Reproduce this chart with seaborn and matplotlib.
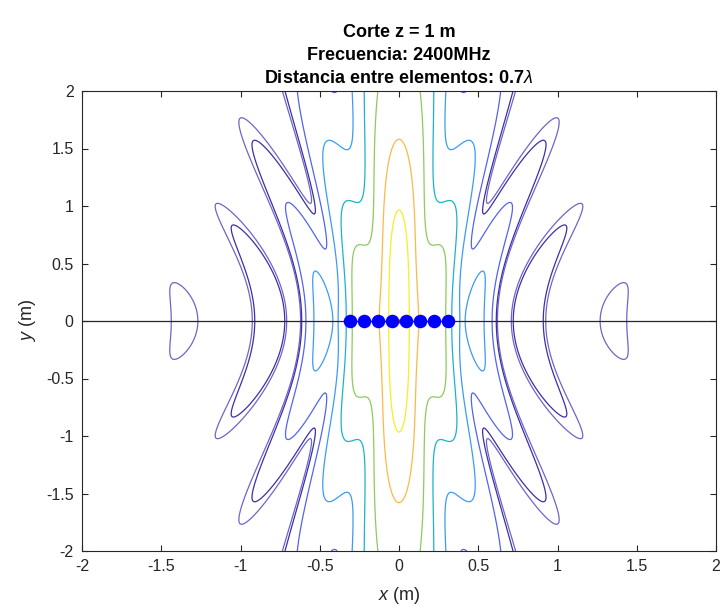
import numpy as np
import pandas as pd
import matplotlib
matplotlib.use("Agg")
import matplotlib.pyplot as plt
import seaborn as sns

# ---- data / parameters ----
freq_mhz = 2400
spacing_wl = 0.7
z_cut = 1.0
elem_x = [-0.30625, -0.21875, -0.13125, -0.04375, 0.04375, 0.13125, 0.21875, 0.30625]
elem_y = [0, 0, 0, 0, 0, 0, 0, 0]
# contour levels (dB relative to the maximum) and their colours
level_db = [-19.1, -18.2, -15.3, -11.8, -8.3, -5.6, -2.84, -1.1]
level_colors = ["#6c66c8", "#3d2fa6", "#5364ee", "#3c9cf0", "#1cb3c9", "#8ccb5c", "#fdb84a", "#f4ef26"]
x_ticks = [-2, -1.5, -1, -0.5, 0, 0.5, 1, 1.5, 2]
y_ticks = [-2, -1.5, -1, -0.5, 0, 0.5, 1, 1.5, 2]

lam = 3e8 / (freq_mhz * 1e6)
k = 2 * np.pi / lam

def field(x, y):
    E = 0
    for xn in elem_x:
        r = np.sqrt((x - xn) ** 2 + y ** 2 + z_cut ** 2)
        E = E + np.exp(-1j * k * r) / r
    return np.abs(E)

g = np.linspace(-2, 2, 601)
X, Y = np.meshgrid(g, g)
F = field(X, Y)
Fdb = 20 * np.log10(F / field(0.0, 0.0))

sns.set_theme(style="white")
plt.rcParams["font.family"] = ["Liberation Sans", "DejaVu Sans"]
plt.rcParams["axes.unicode_minus"] = False
plt.rcParams["mathtext.fontset"] = "custom"
plt.rcParams["mathtext.rm"] = "Liberation Sans"
plt.rcParams["mathtext.it"] = "Liberation Sans:italic"

fig = plt.figure(figsize=(7.26, 6.14), dpi=100)
ax = fig.add_axes([82 / 726, 1 - 551 / 614, (716 - 82) / 726, (551 - 91) / 614])

ax.contour(X, Y, Fdb, levels=level_db, colors=level_colors, linewidths=0.9)

line_df = pd.DataFrame({"x": [-2, 2], "y": [0, 0]})
sns.lineplot(data=line_df, x="x", y="y", color="#262626", linewidth=0.9, ax=ax, zorder=3)
ax.plot([0], [0], marker=".", color="red", markersize=4, zorder=4)
el_df = pd.DataFrame({"x": elem_x, "y": elem_y})
sns.scatterplot(data=el_df, x="x", y="y", color="blue", s=95, edgecolor="blue", linewidth=0, ax=ax, zorder=5)

ax.set_xlim(-2, 2)
ax.set_ylim(-2, 2)
ax.set_xticks(x_ticks)
ax.set_yticks(y_ticks)
ax.set_xticklabels([f"{t:g}" for t in x_ticks])
ax.set_yticklabels([f"{t:g}" for t in y_ticks])
ax.tick_params(direction="in", length=4.5, width=0.8, colors="#262626", labelsize=11.5,
               top=True, right=True, bottom=True, left=True, pad=6)
for sp in ax.spines.values():
    sp.set_color("#262626")
    sp.set_linewidth(0.8)
ax.set_xlabel(r"$\mathit{x}$ (m)", fontsize=13, color="#262626", labelpad=8)
ax.set_ylabel(r"$\mathit{y}$ (m)", fontsize=13, color="#262626", labelpad=6)
ax.set_title("Corte z = 1 m\nFrecuencia: 2400MHz\nDistancia entre elementos: 0.7$\\lambda$",
             fontsize=13, fontweight="bold", color="black", linespacing=1.45, pad=6)

fig.savefig("out.png", dpi=100)
